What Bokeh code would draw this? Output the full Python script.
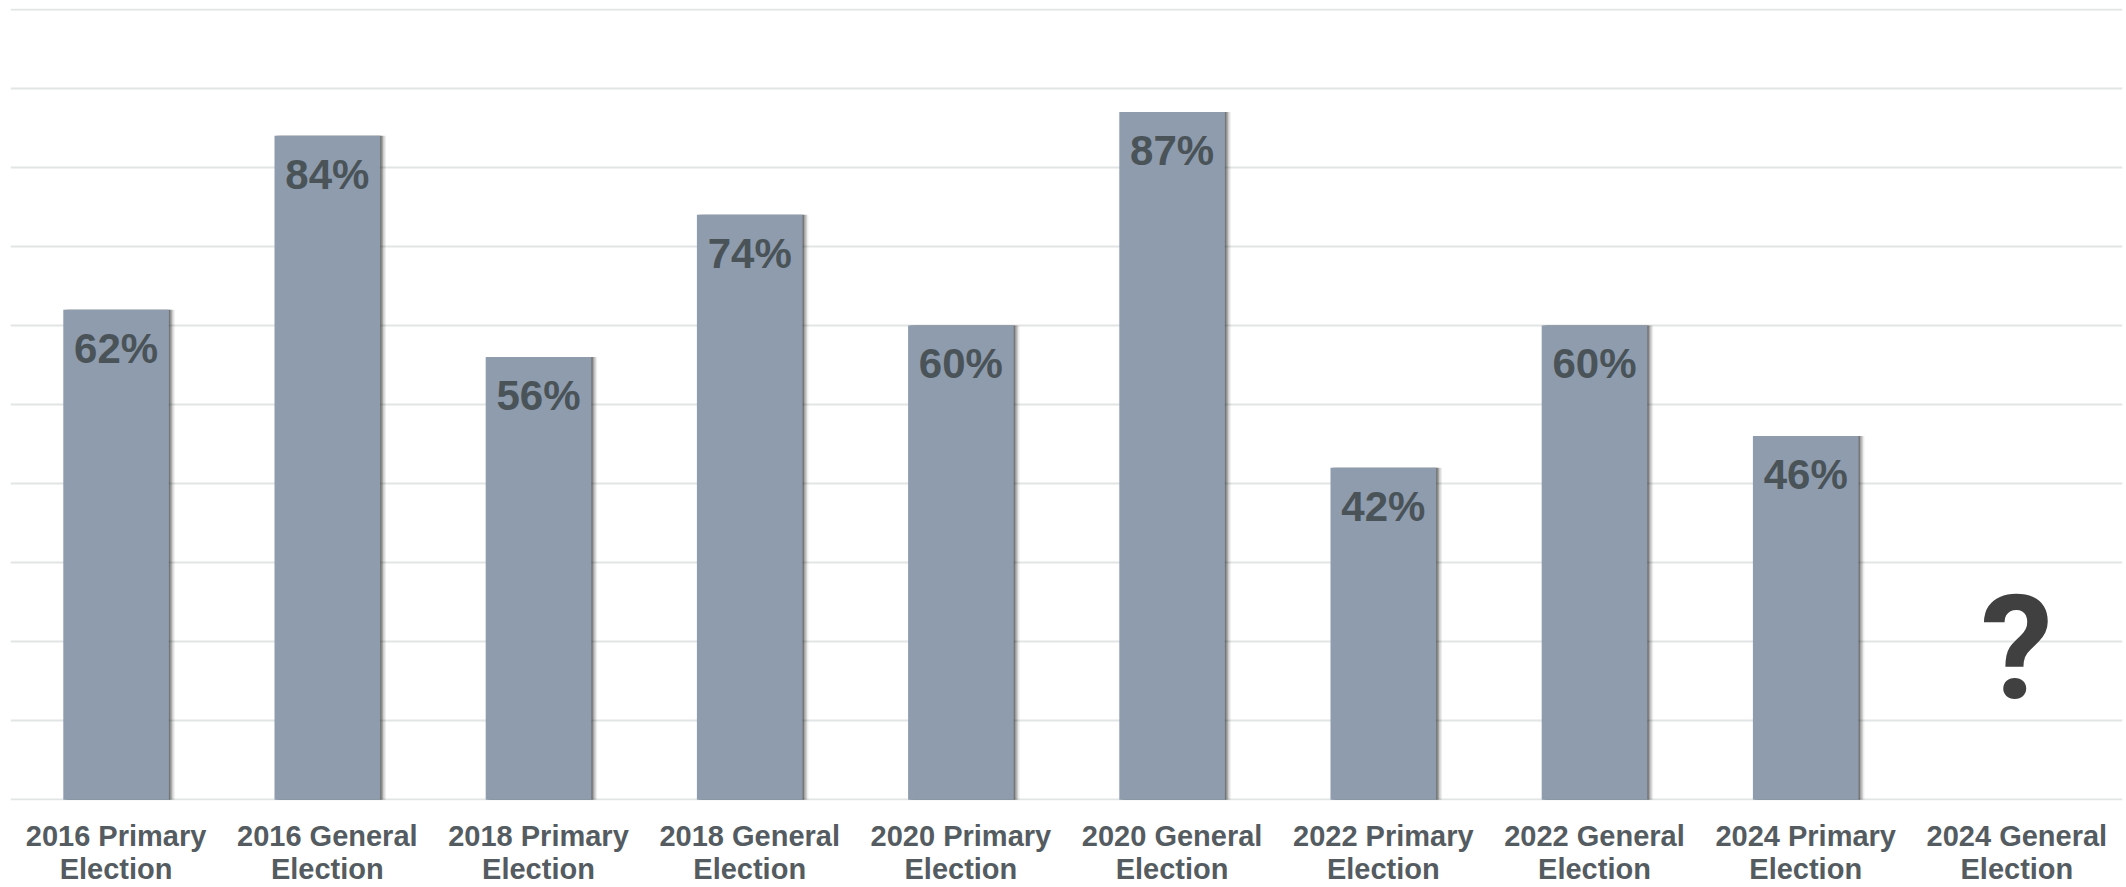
from bokeh.plotting import figure
from bokeh.models import (ColumnDataSource, FixedTicker, Range1d, FactorRange, CategoricalAxis,
                          CustomJSTickFormatter)
from bokeh.transform import dodge
from bokeh.core.properties import value
from bokeh.embed import file_html
from bokeh.resources import INLINE

categories = ["2016 Primary Election", "2016 General Election", "2018 Primary Election",
              "2018 General Election", "2020 Primary Election", "2020 General Election",
              "2022 Primary Election", "2022 General Election", "2024 Primary Election",
              "2024 General Election"]
tick_line1 = ["2016 Primary", "2016 General", "2018 Primary", "2018 General", "2020 Primary",
              "2020 General", "2022 Primary", "2022 General", "2024 Primary", "2024 General"]
tick_line2 = ["Election"] * 10
bar_categories = categories[:9]
turnout = [62, 84, 56, 74, 60, 87, 42, 60, 46]
pct_labels = [f"{v}%" for v in turnout]
unknown_category = ["2024 General Election"]
unknown_label = ["?"]
unknown_y = [19.2]

FONT = "Liberation Sans"

src = ColumnDataSource(dict(x=bar_categories, top=turnout, label=pct_labels))

p = figure(x_range=FactorRange(*categories), y_range=Range1d(-0.1, 100.1),
           width=2126, height=887, output_backend="svg", toolbar_location=None,
           min_border_left=10, min_border_right=4, min_border_top=8, min_border_bottom=85)
p.outline_line_color = None
p.background_fill_color = "white"
p.border_fill_color = "white"

# grid
p.xgrid.grid_line_color = None
p.ygrid.ticker = FixedTicker(ticks=list(range(0, 101, 10)))
p.ygrid.grid_line_color = "#e2e5e5"
p.ygrid.grid_line_width = 2

# y axis hidden
p.yaxis.visible = False


def style_axis(ax, labels, standoff):
    ax.axis_line_color = None
    ax.major_tick_line_color = None
    ax.minor_tick_line_color = None
    ax.major_tick_out = 0
    ax.major_tick_in = 0
    ax.formatter = CustomJSTickFormatter(
        args=dict(names=categories, labels=labels),
        code="const i = names.indexOf(tick); return i >= 0 ? labels[i] : tick;")
    ax.major_label_text_font = FONT
    ax.major_label_text_font_style = "bold"
    ax.major_label_text_font_size = "29px"
    ax.major_label_text_color = "#545c61"
    ax.major_label_standoff = standoff


style_axis(p.xaxis[0], tick_line1, 19)
ax2 = CategoricalAxis()
style_axis(ax2, tick_line2, -2)
p.add_layout(ax2, "below")

# shadows
for off, a in [(0.028, 0.07), (0.021, 0.13), (0.014, 0.2), (0.007, 0.28)]:
    p.vbar(x=dodge("x", off, range=p.x_range), top="top", width=0.5, bottom=0,
           source=src, fill_color="black", fill_alpha=a, line_color=None)

# bars
p.vbar(x="x", top="top", width=0.5, bottom=0, source=src,
       fill_color="#8e9cae", line_color=None)

# value labels
p.text(x="x", y="top", text="label", source=src, text_align="center",
       text_baseline="top", y_offset=15, text_font=value(FONT),
       text_font_style="bold", text_font_size="42px", text_color="#4a5358")

# question mark
p.text(x=unknown_category, y=unknown_y, text=unknown_label, text_align="center",
       text_baseline="middle", text_font=value("Roboto"), text_font_style="bold",
       text_font_size="145px", text_color="#404040")

open("out.html", "w").write(file_html(p, INLINE))
